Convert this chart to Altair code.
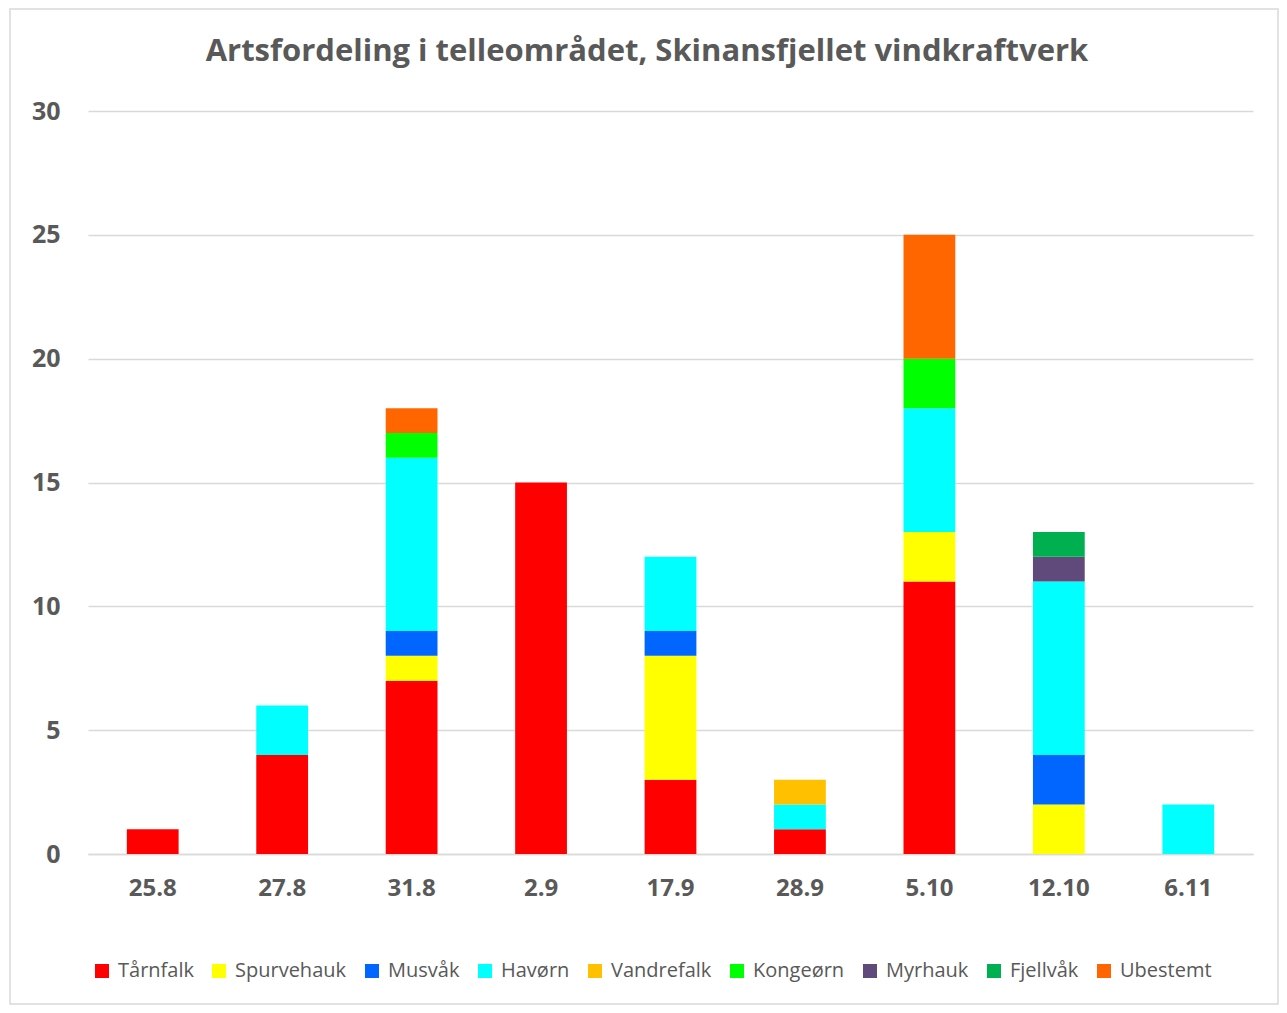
import altair as alt
import pandas as pd

title_text = "Artsfordeling i telleområdet, Skinansfjellet vindkraftverk"
dates = ["25.8", "27.8", "31.8", "2.9", "17.9", "28.9", "5.10", "12.10", "6.11"]
species = ["Tårnfalk", "Spurvehauk", "Musvåk", "Havørn", "Vandrefalk",
           "Kongeørn", "Myrhauk", "Fjellvåk", "Ubestemt"]
colors = ["#FF0000", "#FFFF00", "#0066FF", "#00FFFF", "#FFC000",
          "#00FF00", "#604A7B", "#00B050", "#FF6600"]

tarnfalk   = [1, 4, 7, 15, 3, 1, 11, 0, 0]
spurvehauk = [0, 0, 1, 0, 5, 0, 2, 2, 0]
musvak     = [0, 0, 1, 0, 1, 0, 0, 2, 0]
havorn     = [0, 2, 7, 0, 3, 1, 5, 7, 2]
vandrefalk = [0, 0, 0, 0, 0, 1, 0, 0, 0]
kongeorn   = [0, 0, 1, 0, 0, 0, 2, 0, 0]
myrhauk    = [0, 0, 0, 0, 0, 0, 0, 1, 0]
fjellvak   = [0, 0, 0, 0, 0, 0, 0, 1, 0]
ubestemt   = [0, 0, 1, 0, 0, 0, 5, 0, 0]

series = [tarnfalk, spurvehauk, musvak, havorn, vandrefalk,
          kongeorn, myrhauk, fjellvak, ubestemt]

rows = []
for si, (name, vals) in enumerate(zip(species, series)):
    for d, v in zip(dates, vals):
        if v > 0:
            rows.append({"Dato": d, "Art": name, "Antall": v, "idx": si})
df = pd.DataFrame(rows)

GREY = "#595959"
FONT = "Open Sans"

bars = alt.Chart(df).mark_bar().encode(
    x=alt.X("Dato:N", sort=dates,
            scale=alt.Scale(paddingInner=0.6, paddingOuter=0.3),
            axis=alt.Axis(title=None, labelAngle=0, ticks=False,
                          domainColor="#D9D9D9", domainWidth=1.5,
                          labelFont=FONT, labelFontSize=24, labelFontWeight="bold",
                          labelColor=GREY, labelPadding=22)),
    y=alt.Y("Antall:Q", stack="zero",
            scale=alt.Scale(domain=[0, 30], nice=False),
            axis=alt.Axis(title=None, values=[0, 5, 10, 15, 20, 25, 30],
                          domain=False, ticks=False, gridColor="#D9D9D9",
                          gridWidth=1.5,
                          labelFont=FONT, labelFontSize=25, labelFontWeight="bold",
                          labelColor=GREY, labelPadding=28)),
    color=alt.Color("Art:N", sort=species,
                    scale=alt.Scale(domain=species, range=colors),
                    legend=alt.Legend(title=None, orient="none", legendX=4, legendY=850,
                                      direction="horizontal", columns=9,
                                      symbolType="square", symbolSize=196,
                                      symbolStrokeWidth=0, columnPadding=15,
                                      labelFont=FONT, labelFontSize=20,
                                      labelColor=GREY, labelOffset=6)),
    order=alt.Order("idx:Q", sort="ascending"),
)

one = pd.DataFrame({"t": [title_text]})

border = alt.Chart(one).mark_rect(
    fill=None, stroke="#D9D9D9", strokeWidth=1.5
).encode(x=alt.value(-78), x2=alt.value(1190), y=alt.value(-102), y2=alt.value(893))

title = alt.Chart(one).mark_text(
    font=FONT, fontSize=31, fontWeight="bold", color=GREY,
    align="center", baseline="middle"
).encode(text="t:N", x=alt.value(559), y=alt.value(-59))

chart = alt.layer(border, title, bars).properties(
    width=1165, height=743,
    padding={"left": 80, "top": 103, "right": 26, "bottom": 151},
    autosize=alt.AutoSizeParams(type="none"),
).configure_view(stroke=None)

chart.save("out.html", embed_options={"renderer": "svg", "actions": False})
